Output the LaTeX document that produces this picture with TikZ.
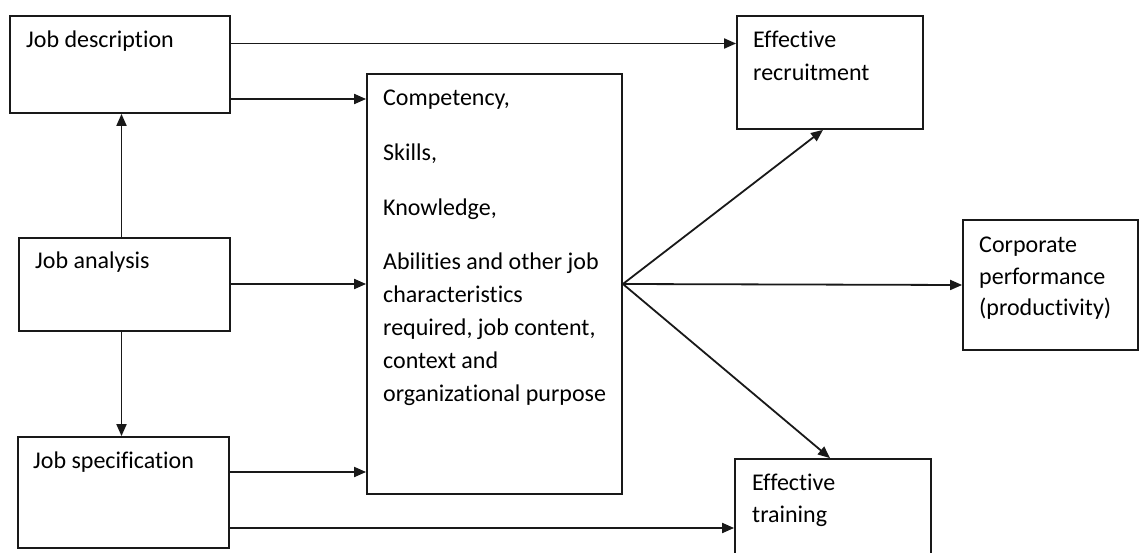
\documentclass[tikz,border=0pt]{standalone}
\usepackage{fontspec}
\setmainfont[Ligatures=NoCommon]{Carlito}
\usetikzlibrary{arrows.meta}
\begin{document}
\begin{tikzpicture}[x=1pt,y=-1pt,
  box/.style={draw=black!90,line width=1.8pt,inner sep=0pt,rectangle},
  lbl/.style={anchor=base west,inner sep=0pt,font=\fontsize{24}{33}\selectfont},
  arr/.style={draw=black!90,line width=1.8pt,-{Triangle[length=12pt,width=10pt]}}]
\useasboundingbox (0,0) rectangle (1139,553);
\fill[white] (0,0) rectangle (1139,553);

% boxes
\node[box,minimum width=220pt,minimum height=97pt]  (jd) at (120,64.5) {};
\node[box,minimum width=211pt,minimum height=93pt]  (ja) at (124.5,284.5) {};
\node[box,minimum width=211pt,minimum height=111pt] (js) at (123.5,492.5) {};
\node[box,minimum width=255pt,minimum height=420pt] (co) at (494.5,284) {};
\node[box,minimum width=186pt,minimum height=113pt] (er) at (830,72.5) {};
\node[box,minimum width=175pt,minimum height=130pt] (cp) at (1050.5,285) {};
\node[box,minimum width=196pt,minimum height=122pt] (et) at (833,520) {};

% texts, one node per printed line
\node[lbl] (jdt) at (26,48)  {Job description};
\node[lbl] (jat) at (35,268) {Job analysis};
\node[lbl] (jst) at (33,468) {Job specification};
\node[lbl] (co1) at (383,106) {Competency,};
\node[lbl] (co2) at (383,161) {Skills,};
\node[lbl] (co3) at (383,216) {Knowledge,};
\node[lbl] (co4) at (383,269) {Abilities and other job};
\node[lbl] (co5) at (383,302) {characteristics};
\node[lbl] (co6) at (383,335) {required, job content,};
\node[lbl] (co7) at (383,368) {context and};
\node[lbl] (co8) at (383,401) {organizational purpose};
\node[lbl] (er1) at (753,48)  {Effective};
\node[lbl] (er2) at (753,81)  {recruitment};
\node[lbl] (cp1) at (979,252) {Corporate};
\node[lbl] (cp2) at (979,284) {performance};
\node[lbl] (cp3) at (979,315) {(productivity)};
\node[lbl] (et1) at (752,490) {Effective};
\node[lbl] (et2) at (752,522) {training};

% levels of the horizontal connectors
\coordinate (l1) at (0,43.5);
\coordinate (l2) at (0,99);
\coordinate (l3) at (0,284);
\coordinate (l4) at (0,472);
\coordinate (l5) at (0,528);
\coordinate (v1) at (121.5,0);

% connectors
\draw[arr] (jd.east |- l1) -- (er.west |- l1);
\draw[arr] (jd.east |- l2) -- (co.west |- l2);
\draw[arr] (ja.north -| v1) -- (jd.south -| v1);
\draw[arr] (ja.south -| v1) -- (js.north -| v1);
\draw[arr] (ja.east |- l3) -- (co.west |- l3);
\draw[arr] (js.east |- l4) -- (co.west |- l4);
\draw[arr] ([xshift=-1pt]js.east |- l5) -- (et.west |- l5);

% fan out of the central box
\draw[arr] (co.east) -- ([xshift=-7pt]er.south);
\draw[arr] (co.east) -- (cp.west);
\draw[arr] (co.east) -- ([xshift=-3pt]et.north);
\end{tikzpicture}
\end{document}
